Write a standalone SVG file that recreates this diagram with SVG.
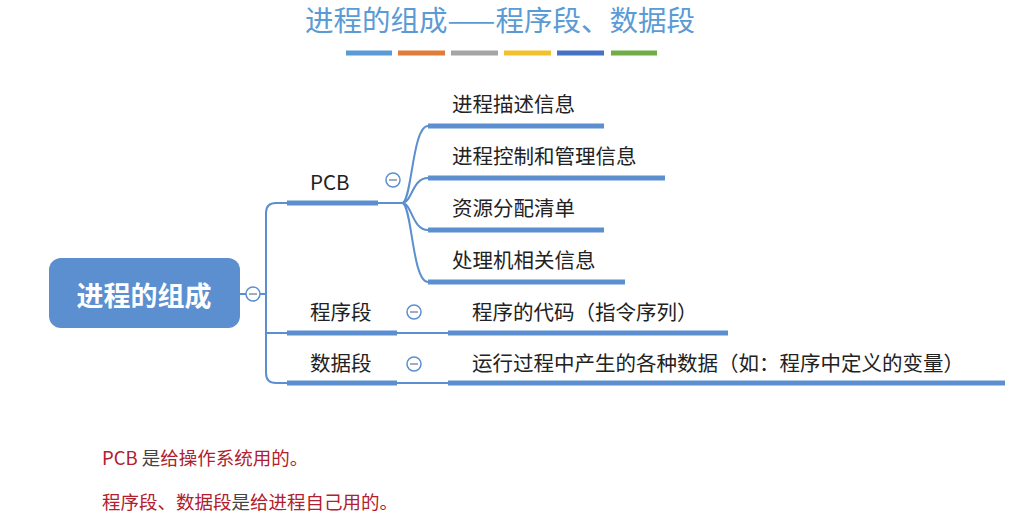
<svg xmlns="http://www.w3.org/2000/svg" width="1024" height="531" viewBox="0 0 1024 531">
<style>
text{font-family:"Noto Sans CJK SC","Liberation Sans",sans-serif}
.t{font-size:20.5px;fill:#222}
.bar{stroke:#5b8fd0;stroke-width:5}
.ln{stroke:#5b8fd0;stroke-width:2;fill:none}
.c{fill:#fff;stroke:#5b8fd0;stroke-width:1.5}
.m{stroke:#8a8fa8;stroke-width:1.5}
.r{fill:#b0202e;font-size:18.5px}
</style>
<rect width="1024" height="531" fill="#fff"/>
<text x="500" y="31" text-anchor="middle" font-size="28.5" fill="#5b9bd5">进程的组成——程序段、数据段</text>
<g stroke-width="5">
<line x1="346" y1="53" x2="392" y2="53" stroke="#5b9bd5"/>
<line x1="398" y1="53" x2="445" y2="53" stroke="#e07b39"/>
<line x1="451" y1="53" x2="498" y2="53" stroke="#a5a5a5"/>
<line x1="504" y1="53" x2="551" y2="53" stroke="#f2c12e"/>
<line x1="557" y1="53" x2="604" y2="53" stroke="#4472c4"/>
<line x1="611" y1="53" x2="657" y2="53" stroke="#70ad47"/>
</g>
<g id="connectors">
<path class="ln" d="M240 294 H246 M260 294 H266 M287 203 H276 Q266 203 266 213 V373 Q266 383 276 383 H287 M266 333 H287"/>
<path class="ln" d="M378 203 H402 M402 203 C412 203 412 126 428 126 M402 203 C412 203 412 178 428 178 M402 203 C412 203 412 230 428 230 M402 203 C412 203 412 282 428 282"/>
<path class="ln" d="M397 333 H448 M397 383 H448"/>
<line class="bar" x1="287" y1="203" x2="378" y2="203"/>
<line class="bar" x1="287" y1="333" x2="397" y2="333"/>
<line class="bar" x1="287" y1="383" x2="397" y2="383"/>
<line class="bar" x1="428" y1="126" x2="604" y2="126"/>
<line class="bar" x1="428" y1="178" x2="665" y2="178"/>
<line class="bar" x1="428" y1="230" x2="604" y2="230"/>
<line class="bar" x1="428" y1="282" x2="625" y2="282"/>
<line class="bar" x1="448" y1="333" x2="728" y2="333"/>
<line class="bar" x1="448" y1="383" x2="1005" y2="383"/>
</g>
<g id="root">
<rect x="49" y="258" width="191" height="70" rx="12" fill="#5b8fd0"/>
<text x="144" y="306" text-anchor="middle" font-size="27" font-weight="bold" fill="#fff">进程的组成</text>
<circle class="c" cx="253" cy="294" r="7"/><line class="m" x1="249" y1="294" x2="257" y2="294"/>
</g>
<g id="pcb">
<text class="t" x="310" y="190" font-family="Liberation Sans,sans-serif">PCB</text>
<circle class="c" cx="393" cy="180" r="7"/><line class="m" x1="389" y1="180" x2="397" y2="180"/>
</g>
<g id="n1"><text class="t" x="452" y="112">进程描述信息</text></g>
<g id="n2"><text class="t" x="452" y="164">进程控制和管理信息</text></g>
<g id="n3"><text class="t" x="452" y="216">资源分配清单</text></g>
<g id="n4"><text class="t" x="452" y="268">处理机相关信息</text></g>
<g id="prog">
<text class="t" x="310" y="320">程序段</text>
<circle class="c" cx="414" cy="312" r="7"/><line class="m" x1="410" y1="312" x2="418" y2="312"/>
</g>
<g id="n5"><text class="t" x="472" y="320">程序的代码（指令序列）</text></g>
<g id="data">
<text class="t" x="310" y="371">数据段</text>
<circle class="c" cx="414" cy="364" r="7"/><line class="m" x1="410" y1="364" x2="418" y2="364"/>
</g>
<g id="n6"><text class="t" x="472" y="371">运行过程中产生的各种数据（如：程序中定义的变量）</text></g>
<text x="102" y="465" class="r">PCB <tspan fill="#444">是</tspan>给操作系统用的。</text>
<text x="102" y="509" class="r">程序段、数据段<tspan fill="#444">是</tspan>给进程自己用的。</text>
</svg>
